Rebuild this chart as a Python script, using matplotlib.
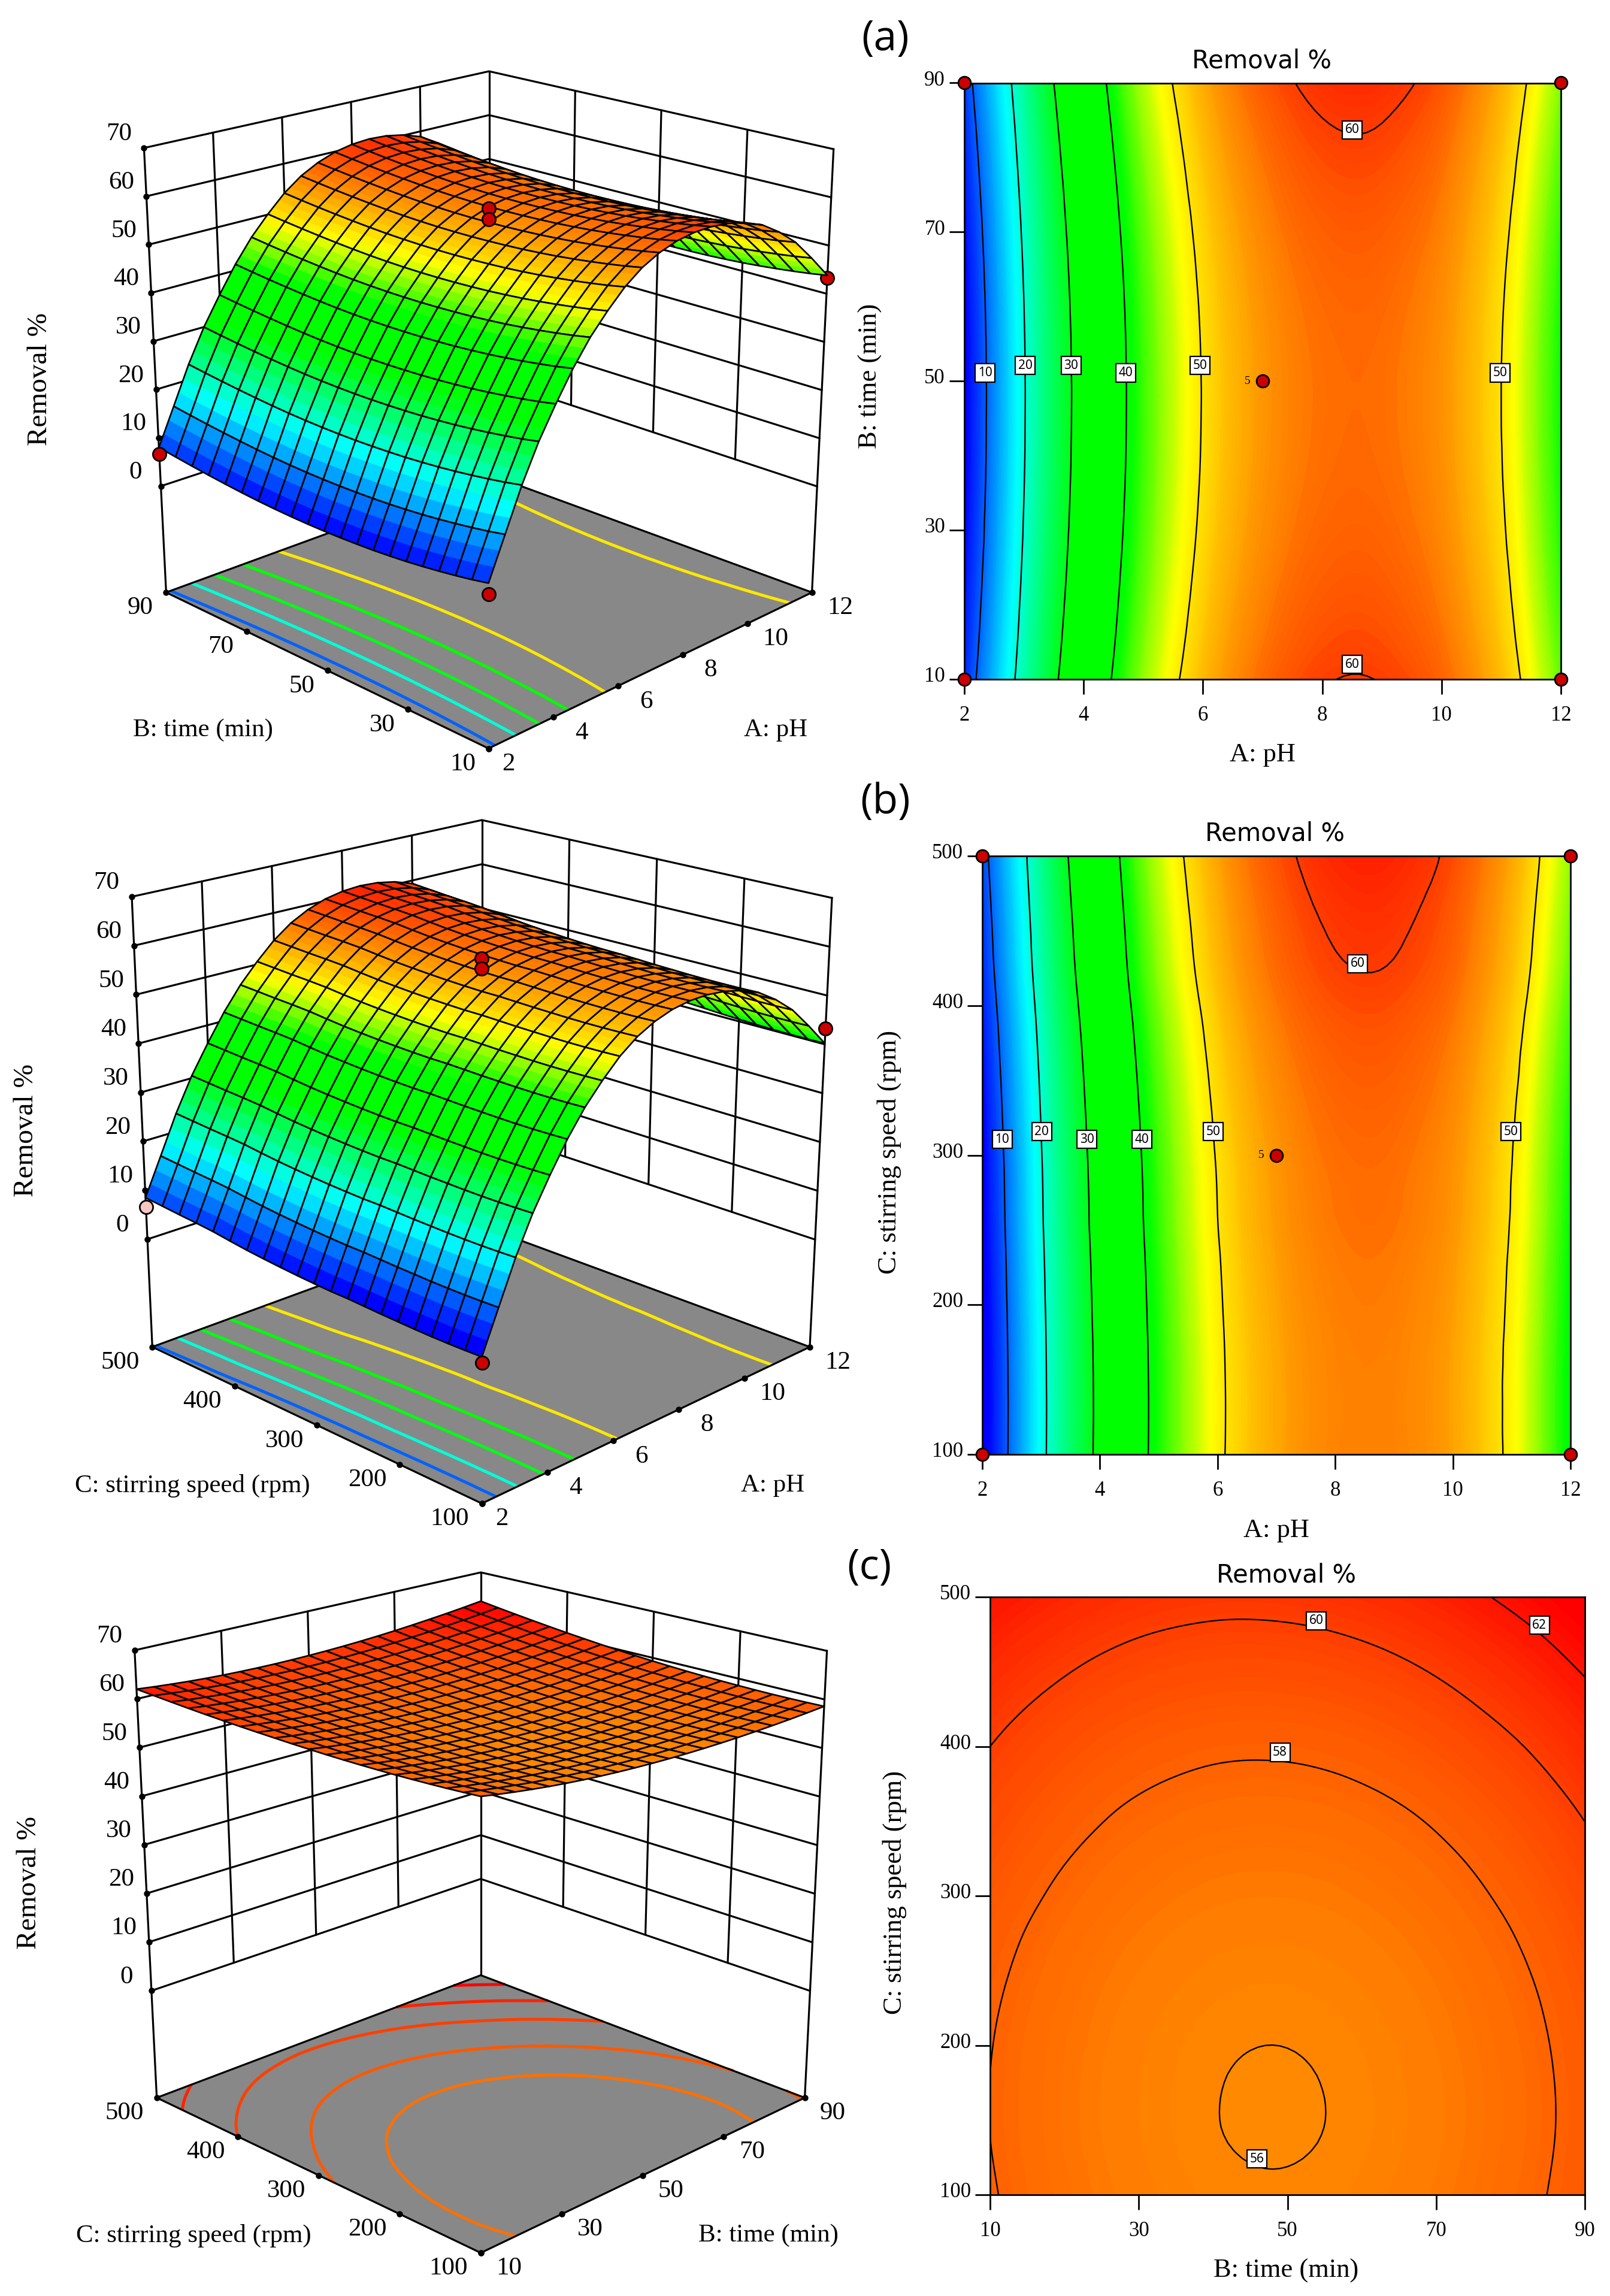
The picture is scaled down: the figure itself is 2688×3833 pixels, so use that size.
"""Removal % response surfaces (left) and contour maps (right) for pH, time and stirring speed."""
import matplotlib
matplotlib.use("Agg")
import matplotlib.pyplot as plt
import matplotlib.tri as mtri
import numpy as np
from matplotlib.collections import LineCollection, PolyCollection
from matplotlib.colors import LinearSegmentedColormap, Normalize
from matplotlib.transforms import ScaledTranslation

plt.rcParams["font.family"] = ["Liberation Serif", "DejaVu Sans"]

W, H = 2688, 3833
DPI = 100

# grids of the model surfaces
PH_GRID = [2, 2.5, 3, 3.5, 4, 4.5, 5, 5.5, 6, 6.5, 7, 7.5, 8, 8.5, 9, 9.5, 10, 10.5, 11, 11.5, 12]
TIME_GRID = [10, 14, 18, 22, 26, 30, 34, 38, 42, 46, 50, 54, 58, 62, 66, 70, 74, 78, 82, 86, 90]
SPEED_GRID = [100, 120, 140, 160, 180, 200, 220, 240, 260, 280, 300, 320, 340, 360, 380, 400, 420, 440, 460, 480, 500]

# removal read across pH at mid time / mid speed
REMOVAL_BY_PH = [4.5, 12.0, 19.7, 26.5, 32.3, 37.8, 42.6, 46.6, 50.2, 53.0, 55.0, 56.4, 57.2, 57.5, 57.3, 56.6, 55.3,
                 53.0, 50.0, 45.8, 41.2]
# how far the pH profile moves up or down with time / speed
SHIFT_BY_TIME = [2.6, 2.05, 1.6, 1.2, 0.85, 0.55, 0.33, 0.15, 0.05, 0.0, 0.0, 0.07, 0.2, 0.4, 0.66, 1.0, 1.4, 1.85,
                 2.35, 2.9, 3.5]
SHIFT_BY_SPEED = [-1.0, -1.05, -1.05, -1.0, -0.9, -0.75, -0.6, -0.4, -0.2, -0.1, 0.1, 0.35, 0.65, 1.0, 1.4, 1.9, 2.45,
                  2.85, 3.2, 3.6, 4.0]

# panel (c): time and speed effects around the minimum
REMOVAL_MIN_C = 55.93
C_BY_TIME = [2.06, 1.65, 1.29, 0.97, 0.69, 0.46, 0.28, 0.14, 0.05, 0.006, 0.006, 0.05, 0.14, 0.28, 0.46, 0.69, 0.97,
             1.29, 1.65, 2.06, 2.52]
C_BY_SPEED = [0.13, 0.06, 0.01, 0.0, 0.02, 0.07, 0.15, 0.26, 0.40, 0.57, 0.78, 1.01, 1.28, 1.57, 1.90, 2.25, 2.64,
              3.06, 3.51, 3.99, 4.50]
C_CROSS_TIME = [-0.48, -0.43, -0.38, -0.34, -0.29, -0.24, -0.19, -0.14, -0.10, -0.05, 0.0, 0.05, 0.10, 0.14, 0.19,
                0.24, 0.29, 0.34, 0.38, 0.43, 0.48]
C_CROSS_SPEED = [0.0, 0.0, 0.0, 0.0, 0.02, 0.04, 0.06, 0.08, 0.11, 0.14, 0.17, 0.21, 0.25, 0.32, 0.41, 0.50, 0.60,
                 0.70, 0.79, 0.89, 1.0]

PH_TICKS = [2, 4, 6, 8, 10, 12]
TIME_TICKS = [10, 30, 50, 70, 90]
SPEED_TICKS = [100, 200, 300, 400, 500]
Z_TICKS = [0, 10, 20, 30, 40, 50, 60, 70]
Z_FLOOR = -22

FLOOR_LEVELS_AB = [10, 20, 30, 40, 50]
FLOOR_LEVELS_C = [57.3, 58.5, 60.0, 61.3, 62.6]
LEVELS_AB = [10, 20, 30, 40, 50, 60]
LEVELS_C = [56, 58, 60, 62]

# contour labels: (x, y, text)
LABELS_A = [(2.35, 51.1, "10"), (3.02, 52.1, "20"), (3.79, 52.1, "30"), (4.71, 51.1, "40"), (5.95, 52.1, "50"),
            (10.98, 51.1, "50"), (8.5, 83.7, "60"), (8.5, 12.0, "60")]
LABELS_B = [(2.34, 310.5, "10"), (3.01, 315.8, "20"), (3.78, 310.5, "30"), (4.71, 310.5, "40"), (5.93, 315.8, "50"),
            (10.99, 315.8, "50"), (8.38, 428, "60")]
LABELS_C = [(53.9, 484, "60"), (83.9, 481, "62"), (49, 396, "58"), (45.9, 124, "56")]

# design points on the 3D plots: (x, y, removal, colour, over surface)
POINTS_A = [(2, 10, 5.2, "#cc0000", True), (2, 90, 6.6, "#cc0000", True), (12, 10, 43.3, "#cc0000", False),
            (7, 50, 57.8, "#cc0000", True), (7, 50, 55.7, "#cc0000", True)]
POINTS_B = [(2, 100, 2.5, "#cc0000", True), (2, 500, 6.6, "#f8c8c0", True), (12, 100, 43.2, "#cc0000", True),
            (7, 300, 57.7, "#cc0000", True), (7, 300, 55.7, "#cc0000", True)]

# box corners on the page, px: back-top, left-top, right-top, left-floor, right-floor, front-floor, back-floor
CORNERS_A = [(816.5, 119), (240.4, 247), (1391.7, 249), (277.4, 989), (1355.6, 989), (815.6, 1249.5), (816.5, 792)]
CORNERS_B = [(804.5, 1369), (220, 1497), (1389, 1499), (254.3, 2248.6), (1352, 2248.6), (804.5, 2510), (804.5, 2047)]
CORNERS_C = [(802.7, 2625), (224.7, 2755), (1380.6, 2756), (261.7, 3502), (1343.6, 3502), (802.7, 3761), (802.7, 3297.5)]

CMAP_STOPS = [(5.0, "#0000ff"), (18.0, "#00ffff"), (31.0, "#00ff00"), (41.0, "#00ff00"), (48.5, "#ffff00"),
              (56.0, "#ff8800"), (60.0, "#ff4000"), (63.0, "#ff0000")]
NORM = Normalize(CMAP_STOPS[0][0], CMAP_STOPS[-1][0])
CMAP = LinearSegmentedColormap.from_list("de", [(float(NORM(v)), c) for v, c in CMAP_STOPS])


def grid_a():
    return np.array(REMOVAL_BY_PH) + np.array(SHIFT_BY_TIME)[:, None]


def grid_b():
    return np.array(REMOVAL_BY_PH) + np.array(SHIFT_BY_SPEED)[:, None]


def grid_c():
    return (REMOVAL_MIN_C + np.array(C_BY_TIME) + np.array(C_BY_SPEED)[:, None]
            + np.array(C_CROSS_TIME) * np.array(C_CROSS_SPEED)[:, None])


def make_view(xlim, ylim, corners):
    """The original box has evenly spaced ticks on every edge, so map data to page trilinearly from its corners."""
    bt, lt, rt, lf, rf, ff, bf = [np.array(c, float) for c in corners]
    ft = lt + rt - bt  # hidden top corner

    def view(x, y, z):
        a = (np.asarray(x, float) - xlim[0]) / (xlim[1] - xlim[0])
        b = (np.asarray(y, float) - ylim[0]) / (ylim[1] - ylim[0])
        c = (np.asarray(z, float) - Z_FLOOR) / (Z_TICKS[-1] - Z_FLOOR)
        a, b, c = np.broadcast_arrays(a, b, c)
        floor = ((1 - a)[..., None] * ((1 - b)[..., None] * ff + b[..., None] * lf)
                 + a[..., None] * ((1 - b)[..., None] * rf + b[..., None] * bf))
        top = ((1 - a)[..., None] * ((1 - b)[..., None] * ft + b[..., None] * lt)
               + a[..., None] * ((1 - b)[..., None] * rt + b[..., None] * bt))
        return (1 - c)[..., None] * floor + c[..., None] * top

    return view


def depth_of(x, y, z, xlim, ylim):
    a = (x - xlim[0]) / (xlim[1] - xlim[0])
    b = (y - ylim[0]) / (ylim[1] - ylim[0])
    c = (z - Z_FLOOR) / (Z_TICKS[-1] - Z_FLOOR)
    return a + b - 0.9 * c


def refined(X, Y, Z):
    tri = mtri.Triangulation(X.ravel(), Y.ravel())
    return mtri.UniformTriRefiner(tri).refine_field(Z.ravel(), subdiv=2)


def page_text(fig, x, y, s, **kw):
    kw.setdefault("ha", "center")
    kw.setdefault("va", "center")
    return fig.text(x / W, 1 - y / H, s, **kw)


def draw_surface(ax, view, xs, ys, Z, xlim, ylim, bands=3, zorder=4):
    X, Y = np.meshgrid(xs, ys)
    P = view(X, Y, Z)
    cells = []
    for j in range(len(ys) - 1):
        for i in range(len(xs) - 1):
            d = depth_of(X[j:j + 2, i:i + 2].mean(), Y[j:j + 2, i:i + 2].mean(), Z[j:j + 2, i:i + 2].mean(), xlim, ylim)
            cells.append((d, j, i))
    cells.sort(reverse=True)
    verts, faces, edges, widths = [], [], [], []
    for _, j, i in cells:
        p00, p01, p10, p11 = P[j, i], P[j, i + 1], P[j + 1, i], P[j + 1, i + 1]
        z0 = (Z[j, i] + Z[j + 1, i]) / 2
        z1 = (Z[j, i + 1] + Z[j + 1, i + 1]) / 2
        for k in range(bands):
            s0, s1 = k / bands, (k + 1) / bands
            colour = CMAP(NORM(z0 + (z1 - z0) * (s0 + s1) / 2))
            verts.append([p00 + (p01 - p00) * s0, p00 + (p01 - p00) * s1, p10 + (p11 - p10) * s1, p10 + (p11 - p10) * s0])
            faces.append(colour)
            edges.append(colour)
            widths.append(0.4)
        verts.append([p00, p01, p11, p10])
        faces.append((0, 0, 0, 0))
        edges.append((0, 0, 0, 1))
        widths.append(1.9)
    ax.add_collection(PolyCollection(verts, facecolors=faces, edgecolors=edges, linewidths=widths, zorder=zorder))


def surface_panel(fig, ax, xs, ys, Z, xticks, yticks, corners, levels, points, xname, yname, xy_label, yx_label,
                  zname_xy):
    xlim, ylim = (xs[0], xs[-1]), (ys[0], ys[-1])
    view = make_view(xlim, ylim, corners)
    x0, x1 = xlim
    y0, y1 = ylim
    top = Z_TICKS[-1]

    def line3(px, py, pz, **kw):
        p = view(px, py, pz)
        ax.plot(p[:, 0], p[:, 1], **kw)

    wall = dict(color="black", lw=2.3, zorder=1, solid_capstyle="round")
    for z in Z_TICKS:
        line3([x0, x1, x1], [y1, y1, y0], [z, z, z], **wall)
    for x in xticks[1:-1]:
        line3([x, x], [y1, y1], [0, top], **wall)
    for y in yticks[1:-1]:
        line3([x1, x1], [y, y], [0, top], **wall)
    line3([x1, x1], [y1, y1], [Z_FLOOR, top], **wall)

    floor = view([x0, x1, x1, x0], [y0, y0, y1, y1], [Z_FLOOR] * 4)
    ax.fill(floor[:, 0], floor[:, 1], color="#888888", lw=0, zorder=2)

    X, Y = np.meshgrid(xs, ys)
    tri, zfine = refined(X, Y, Z)
    cs = ax.tricontour(tri, zfine, levels=levels)
    segs, colours = [], []
    for level, group in zip(cs.levels, cs.allsegs):
        for seg in group:
            if len(seg) > 1:
                segs.append(view(seg[:, 0], seg[:, 1], np.full(len(seg), float(Z_FLOOR))))
                colours.append(CMAP(NORM(level)))
    cs.remove()
    ax.add_collection(LineCollection(segs, colors=colours, linewidths=3.6, zorder=3))

    edge = dict(color="black", lw=2.3, zorder=3.2)
    line3([x0, x1, x1], [y0, y0, y1], [Z_FLOOR] * 3, **edge)
    line3([x0, x0, x1], [y0, y1, y1], [Z_FLOOR] * 3, **edge)
    line3([x0, x0], [y1, y1], [Z_FLOOR, top], **edge)
    line3([x1, x1], [y0, y0], [Z_FLOOR, top], **edge)

    dots = dict(color="black", marker="o", ms=6.5, ls="none", zorder=3.3)
    line3([x0] * len(Z_TICKS), [y1] * len(Z_TICKS), Z_TICKS, **dots)
    line3(list(xticks), [y0] * len(xticks), [Z_FLOOR] * len(xticks), **dots)
    line3([x0] * len(yticks), list(yticks), [Z_FLOOR] * len(yticks), **dots)

    for px, py, pz, colour, above in points:
        line3([px], [py], [pz], marker="o", ms=16, color=colour, mec="black", mew=2, ls="none",
              zorder=5 if above else 3.5)
    draw_surface(ax, view, np.array(xs, float), np.array(ys, float), Z, xlim, ylim)

    tick = dict(fontsize=31, color="black")
    for z in Z_TICKS:
        u, v = view(x0, y1, z)
        page_text(fig, u - 42, v - 23, str(z), **tick)
    for x in xticks:
        u, v = view(x, y0, Z_FLOOR)
        page_text(fig, u + (33 if x < 10 and x == xticks[0] else 47), v + 26, str(x), **tick)
    for y in yticks:
        u, v = view(x0, y, Z_FLOOR)
        page_text(fig, u + (-54 if y >= 100 else -43), v + 26, str(y), **tick)

    page_text(fig, *xy_label, xname, fontsize=31)
    page_text(fig, *yx_label, yname, fontsize=31)
    page_text(fig, *zname_xy, "Removal %", fontsize=34, rotation=90)


def contour_panel(fig, box, xs, ys, Z, xticks, yticks, levels, labels, step, with_points, xname, yname, xlabel_xy,
                  ylabel_xy, title_xy, tag, tag_xy):
    left, top, right, bottom = box
    ax = fig.add_axes([left / W, 1 - bottom / H, (right - left) / W, (bottom - top) / H])
    X, Y = np.meshgrid(xs, ys)
    tri, zfine = refined(X, Y, Z)
    fill_levels = np.arange(0, 66, step)
    ax.tricontourf(tri, zfine, levels=fill_levels, cmap=CMAP, norm=NORM, antialiased=False)
    ax.tricontour(tri, zfine, levels=levels, colors="black", linewidths=1.7)
    ax.set_xlim(xs[0], xs[-1])
    ax.set_ylim(ys[0], ys[-1])
    ax.set_xticks(xticks)
    ax.set_yticks(yticks)
    ax.tick_params(length=18, width=2, labelsize=25, pad=5)
    ax.tick_params(axis="x", pad=14)
    for lab in ax.get_yticklabels():
        lab.set_transform(lab.get_transform() + ScaledTranslation(0, 6 / 72, fig.dpi_scale_trans))
    for sp in ax.spines.values():
        sp.set_linewidth(2)
    for lx, ly, s in labels:
        ax.text(lx, ly, s, fontsize=15, family="Noto Sans", ha="center", va="center", zorder=6,
                bbox=dict(boxstyle="square,pad=0.22", fc="white", ec="black", lw=1.6))
    if with_points:
        ym = (ys[0] + ys[-1]) / 2
        ax.plot([xs[0], xs[0], xs[-1], xs[-1], 7], [ys[0], ys[-1], ys[0], ys[-1], ym], "o", ms=15, color="#cc0000",
                mec="black", mew=2, clip_on=False, zorder=7)
        ax.annotate("5", (7, ym), xytext=(-18, 0), textcoords="offset points", fontsize=14, ha="center", va="center")
    page_text(fig, *xlabel_xy, xname, fontsize=32)
    page_text(fig, *ylabel_xy, yname, fontsize=32, rotation=90)
    page_text(fig, *title_xy, "Removal %", fontsize=30, family="DejaVu Sans")
    page_text(fig, *tag_xy, tag, fontsize=50, family="Open Sans")


def main():
    fig = plt.figure(figsize=(W / DPI, H / DPI), dpi=DPI, facecolor="white")
    Za, Zb, Zc = grid_a(), grid_b(), grid_c()

    canvas = fig.add_axes([0, 0, 1, 1])
    surface_panel(fig, canvas, PH_GRID, TIME_GRID, Za, PH_TICKS, TIME_TICKS, CORNERS_A, FLOOR_LEVELS_AB,
                  POINTS_A, "A: pH", "B: time (min)", (1295, 1219), (339, 1219), (66.6, 633))
    surface_panel(fig, canvas, PH_GRID, SPEED_GRID, Zb, PH_TICKS, SPEED_TICKS, CORNERS_B, FLOOR_LEVELS_AB,
                  POINTS_B, "A: pH", "C: stirring speed (rpm)", (1290, 2480), (321, 2480), (43.5, 1887))
    surface_panel(fig, canvas, TIME_GRID, SPEED_GRID, Zc, TIME_TICKS, SPEED_TICKS, CORNERS_C, FLOOR_LEVELS_C,
                  [], "B: time (min)", "C: stirring speed (rpm)", (1282.6, 3732), (323.6, 3732), (49, 3142.6))
    canvas.set_xlim(0, W)
    canvas.set_ylim(H, 0)
    canvas.axis("off")

    contour_panel(fig, (1610, 138.5, 2606, 1134), PH_GRID, TIME_GRID, Za, PH_TICKS, TIME_TICKS, LEVELS_AB, LABELS_A, 0.25,
                  True, "A: pH", "B: time (min)", (2108, 1260), (1453, 628), (2106, 101), "(a)", (1478, 66))
    contour_panel(fig, (1640, 1429, 2622, 2428), PH_GRID, SPEED_GRID, Zb, PH_TICKS, SPEED_TICKS, LEVELS_AB, LABELS_B, 0.25,
                  True, "A: pH", "C: stirring speed (rpm)", (2131, 2555), (1485, 1923), (2129, 1392), "(b)",
                  (1478, 1340))
    contour_panel(fig, (1653, 2666, 2646, 3664), TIME_GRID, SPEED_GRID, Zc, TIME_TICKS, SPEED_TICKS, LEVELS_C, LABELS_C,
                  0.1, False, "B: time (min)", "C: stirring speed (rpm)", (2147.5, 3791), (1494, 3159), (2147.5, 2630),
                  "(c)", (1451, 2618))

    fig.savefig("out.png", dpi=DPI)
    plt.close(fig)


if __name__ == "__main__":
    main()
